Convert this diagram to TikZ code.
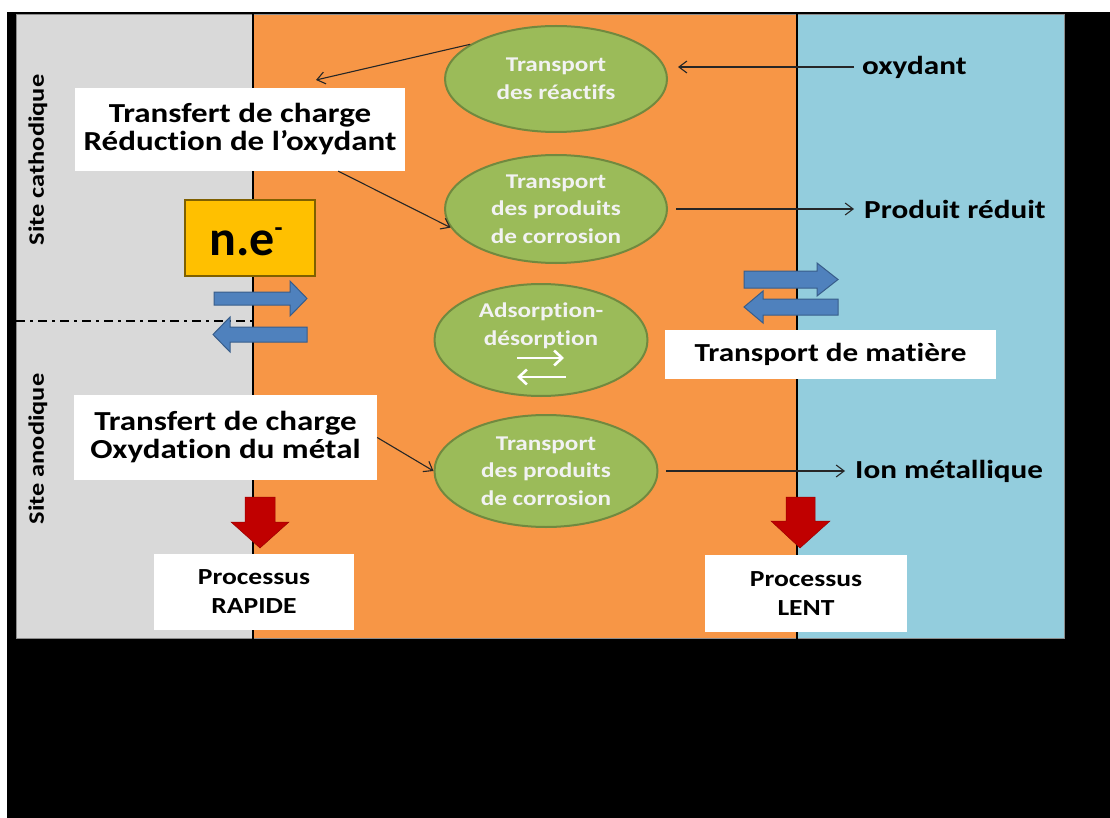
\documentclass[tikz,border=0pt]{standalone}
\usepackage{fontspec}
\setmainfont{Carlito}[FakeStretch=1.2, Ligatures=NoCommon]
\newfontfamily\nefont{Carlito}[Ligatures=NoCommon]
\usetikzlibrary{shapes.geometric,arrows.meta}
\definecolor{greyp}{HTML}{D9D9D9}
\definecolor{orangep}{HTML}{F79646}
\definecolor{bluep}{HTML}{93CDDD}
\definecolor{greenf}{HTML}{9BBB59}
\definecolor{greend}{HTML}{71893F}
\definecolor{yellowf}{HTML}{FFC000}
\definecolor{yellowd}{HTML}{7F6000}
\definecolor{arrowb}{HTML}{4F81BD}
\definecolor{arrowbd}{HTML}{385D8A}
\definecolor{redf}{HTML}{C00000}
\definecolor{txtw}{HTML}{F2F2F2}
\begin{document}
\begin{tikzpicture}[x=1pt,y=-1pt,
  wbox/.style={fill=white, inner sep=0pt, align=center, text=black,
    font=\bfseries\fontsize{27.5}{28}\selectfont},
  sbox/.style={fill=white, inner sep=0pt, align=center, text=black,
    font=\bfseries\fontsize{23}{29}\selectfont},
  ell/.style={ellipse, fill=greenf, draw=greend, line width=2pt, inner sep=0pt,
    align=center, text=txtw, font=\bfseries\fontsize{21}{27.5}\selectfont},
  lbl/.style={anchor=west, inner xsep=6pt, inner ysep=2pt, text=black,
    font=\bfseries\fontsize{26}{28}\selectfont},
  site/.style={rotate=90, inner sep=0pt, text=black,
    font=\bfseries\fontsize{22}{24}\selectfont},
  conn/.style={draw=black!85, line width=1.1pt, -{Straight Barb[length=8pt,width=12pt]}},
  wconn/.style={draw=white, line width=2.6pt, -{Straight Barb[length=8pt,width=15pt]}},
  barrow/.style={fill=arrowb, draw=arrowbd, line width=1pt},
  rarrow/.style={fill=redf, draw=redf!80!black, line width=0.5pt},
  panel/.style={draw=black!45, line width=0.8pt},
  sep/.style={draw=black, line width=2.5pt}
]
\useasboundingbox (0,0) rectangle (1110,818);
\fill[white] (0,0) rectangle (1110,818);
\fill[black] (7,12) rectangle (1110,818);
% panels
\filldraw[panel, fill=greyp] (16,14) rectangle (253,638);
\filldraw[panel, fill=orangep] (253,14) rectangle (797,638);
\filldraw[panel, fill=bluep] (797,14) rectangle (1064,638);
\draw[sep] (253,14) -- (253,640);
\draw[sep] (797,14) -- (797,640);
\draw[black, line width=2pt, dash pattern=on 9pt off 5pt on 3pt off 5pt] (16,321) -- (252,321);
% site labels
\node[site] (sc) at (38,160) {Site cathodique};
\node[site] (sa) at (38,449) {Site anodique};
% white boxes
\node[wbox, minimum width=330pt, minimum height=83pt] (b1) at (240,129.5)
  {Transfert de charge\\Réduction de l’oxydant};
\node[wbox, minimum width=303pt, minimum height=85pt] (b2) at (225.5,437.5)
  {Transfert de charge\\Oxydation du métal};
\node[sbox, minimum width=200pt, minimum height=76pt] (rap) at (254,592)
  {Processus\\RAPIDE};
\node[sbox, minimum width=202pt, minimum height=77pt] (lent) at (806,593.5)
  {Processus\\LENT};
\node[wbox, font=\bfseries\fontsize{26}{28}\selectfont, minimum width=331pt, minimum height=49pt] (tm) at (830.5,354.5)
  {Transport de matière};
% electrons box
\node[draw=yellowd, fill=yellowf, line width=1.5pt, minimum width=130pt, minimum height=76pt, inner sep=0pt] (ne) at (250,238) {};
\node[anchor=base west, inner sep=0pt, text=black] (netext) at (209,255)
  {\nefont\bfseries\fontsize{50}{50}\selectfont n.e\raisebox{19pt}{\fontsize{26}{26}\selectfont -}};
% blue double arrows (left)
\filldraw[barrow] (214,292) -- (290,292) -- (290,281) -- (307,298.5) -- (290,316) -- (290,305) -- (214,305) -- cycle;
\filldraw[barrow] (307,327) -- (230,327) -- (230,317) -- (213,334.5) -- (230,352) -- (230,342) -- (307,342) -- cycle;
% blue double arrows (right)
\filldraw[barrow] (744,271) -- (817,271) -- (817,263) -- (838,279.5) -- (817,296) -- (817,288) -- (744,288) -- cycle;
\filldraw[barrow] (838,299) -- (763,299) -- (763,291) -- (744,307) -- (763,323) -- (763,315) -- (838,315) -- cycle;
% red arrows
\filldraw[rarrow] (245,497) -- (275,497) -- (275,522) -- (289,522) -- (260,548) -- (231,522) -- (245,522) -- cycle;
\filldraw[rarrow] (786,497) -- (815,497) -- (815,521) -- (830,521) -- (800,548) -- (771,521) -- (786,521) -- cycle;
% ellipses
\node[ell, minimum width=222pt, minimum height=106pt] (e1) at (556,79) {Transport\\des réactifs};
\node[ell, minimum width=222pt, minimum height=108pt] (e2) at (556,209) {Transport\\des produits\\de corrosion};
\node[ell, minimum width=213pt, minimum height=112pt] (e3) at (541,340) {};
\node[ell, draw=none, fill=none, minimum width=0pt, minimum height=0pt] (e3t) at (541,326) {Adsorption-\\désorption};
\node[ell, minimum width=223pt, minimum height=112pt] (e4) at (546,471) {Transport\\des produits\\de corrosion};
\draw[wconn] ([shift={(-24,18)}]e3.center) -- ([shift={(23,18)}]e3.center);
\draw[wconn] ([shift={(25,37)}]e3.center) -- ([shift={(-24,37)}]e3.center);
% right labels
\node[lbl] (oxy) at (856,67) {oxydant};
\node[lbl] (prod) at (858,209) {Produit réduit};
\node[lbl] (ion) at (849,471) {Ion métallique};
% connectors
\coordinate (c1) at (316,80);
\draw[conn] (e1.158) -- (c1);
\draw[conn] (b1.-23.6) -- (e2.190);
\draw[conn] (b2.east) -- (e4.west);
\draw[conn, shorten <=2pt, shorten >=10pt] (oxy.west) -- (oxy.west -| e1.east);
\draw[conn, shorten <=8pt, shorten >=4pt] (e2.east) -- (prod.west);
\draw[conn, shorten <=7.5pt, shorten >=4pt] (e4.east) -- (ion.west);
\end{tikzpicture}
\end{document}
